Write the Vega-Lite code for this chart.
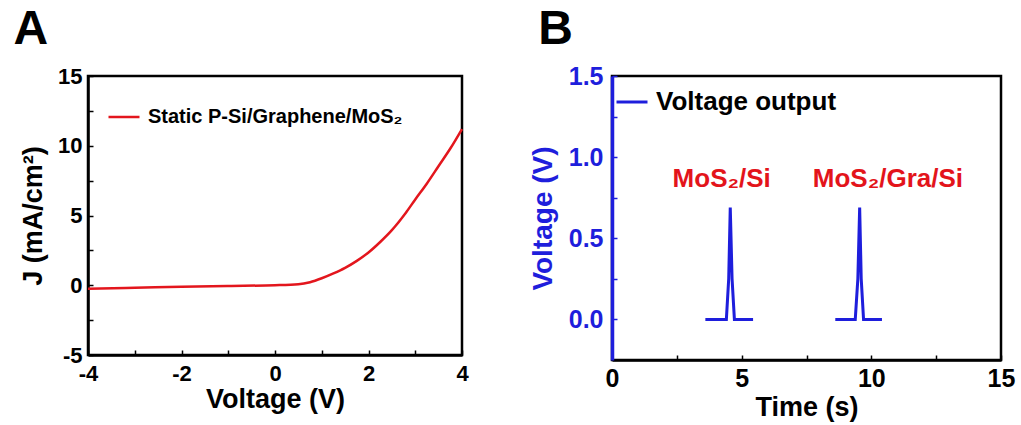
{
  "$schema": "https://vega.github.io/schema/vega-lite/v6.json",
  "padding": {"left": 12, "top": 4, "right": 5, "bottom": 2},
  "background": "white",
  "spacing": 57,
  "resolve": {"scale": {"color": "independent"}, "legend": {"color": "independent"}},
  "config": {
    "font": "Liberation Sans",
    "view": {"stroke": "black", "strokeWidth": 2.5},
    "axis": {
      "grid": false,
      "labelFont": "Liberation Sans", "labelFontWeight": "bold", "labelFontSize": 22, "labelColor": "black",
      "titleFont": "Liberation Sans", "titleFontWeight": "bold", "titleFontSize": 27, "titleColor": "black",
      "domainColor": "black", "domainWidth": 2.5, "tickColor": "black", "tickWidth": 1.5, "tickSize": -5,
      "labelFlush": false, "labelOverlap": false
    },
    "legend": {
      "labelFont": "Liberation Sans", "labelFontWeight": "bold", "labelColor": "black", "labelLimit": 0,
      "symbolType": "stroke", "symbolSize": 961, "symbolStrokeWidth": 2.5, "labelOffset": 7, "padding": 0
    },
    "title": {"font": "Liberation Sans", "fontSize": 48, "fontWeight": "bold", "anchor": "start", "color": "black"}
  },
  "hconcat": [
    {
      "title": {"text": "A", "dx": -6, "offset": 11},
      "width": 374,
      "height": 279,
      "data": {"values": [
        {"voltage": -4, "J": -0.25, "series": "Static P-Si/Graphene/MoS₂"},
        {"voltage": -3, "J": -0.18, "series": "Static P-Si/Graphene/MoS₂"},
        {"voltage": -2, "J": -0.1, "series": "Static P-Si/Graphene/MoS₂"},
        {"voltage": -1, "J": -0.05, "series": "Static P-Si/Graphene/MoS₂"},
        {"voltage": 0, "J": 0.0, "series": "Static P-Si/Graphene/MoS₂"},
        {"voltage": 0.5, "J": 0.07, "series": "Static P-Si/Graphene/MoS₂"},
        {"voltage": 0.75, "J": 0.22, "series": "Static P-Si/Graphene/MoS₂"},
        {"voltage": 1.0, "J": 0.5, "series": "Static P-Si/Graphene/MoS₂"},
        {"voltage": 1.25, "J": 0.85, "series": "Static P-Si/Graphene/MoS₂"},
        {"voltage": 1.5, "J": 1.25, "series": "Static P-Si/Graphene/MoS₂"},
        {"voltage": 1.75, "J": 1.75, "series": "Static P-Si/Graphene/MoS₂"},
        {"voltage": 2.0, "J": 2.35, "series": "Static P-Si/Graphene/MoS₂"},
        {"voltage": 2.25, "J": 3.1, "series": "Static P-Si/Graphene/MoS₂"},
        {"voltage": 2.5, "J": 3.95, "series": "Static P-Si/Graphene/MoS₂"},
        {"voltage": 2.8, "J": 5.2, "series": "Static P-Si/Graphene/MoS₂"},
        {"voltage": 3.0, "J": 6.15, "series": "Static P-Si/Graphene/MoS₂"},
        {"voltage": 3.25, "J": 7.3, "series": "Static P-Si/Graphene/MoS₂"},
        {"voltage": 3.5, "J": 8.55, "series": "Static P-Si/Graphene/MoS₂"},
        {"voltage": 3.75, "J": 9.8, "series": "Static P-Si/Graphene/MoS₂"},
        {"voltage": 4.0, "J": 11.2, "series": "Static P-Si/Graphene/MoS₂"}
      ]},
      "mark": {"type": "line", "strokeWidth": 2.5, "interpolate": "monotone"},
      "encoding": {
        "x": {
          "field": "voltage", "type": "quantitative",
          "scale": {"domain": [-4, 4], "nice": false, "zero": false},
          "axis": {
            "title": "Voltage (V)",
            "values": [-4, -3, -2, -1, 0, 1, 2, 3, 4],
            "labelExpr": "datum.value % 2 === 0 ? '' + datum.value : ''",
            "labelPadding": 13, "titlePadding": 2
          }
        },
        "y": {
          "field": "J", "type": "quantitative",
          "scale": {"domain": [-5, 15], "nice": false, "zero": false},
          "axis": {
            "title": "J (mA/cm²)",
            "values": [-5, -2.5, 0, 2.5, 5, 7.5, 10, 12.5, 15],
            "labelExpr": "datum.value % 5 === 0 ? '' + datum.value : ''",
            "labelPadding": 11, "titlePadding": 10
          }
        },
        "color": {
          "field": "series", "type": "nominal",
          "scale": {"range": ["#e3161d"]},
          "legend": {"title": null, "orient": "none", "legendX": 19, "legendY": 24, "labelFontSize": 20}
        }
      }
    },
    {
      "title": {"text": "B", "dx": 9, "offset": 10},
      "width": 389,
      "height": 284,
      "layer": [
        {
          "data": {"values": [
            {"time": 3.6, "voltage": 0, "pulse": 1, "series": "Voltage output"},
            {"time": 4.41, "voltage": 0, "pulse": 1, "series": "Voltage output"},
            {"time": 4.5, "voltage": 0.25, "pulse": 1, "series": "Voltage output"},
            {"time": 4.56, "voltage": 0.69, "pulse": 1, "series": "Voltage output"},
            {"time": 4.63, "voltage": 0.25, "pulse": 1, "series": "Voltage output"},
            {"time": 4.72, "voltage": 0, "pulse": 1, "series": "Voltage output"},
            {"time": 5.44, "voltage": 0, "pulse": 1, "series": "Voltage output"},
            {"time": 8.61, "voltage": 0, "pulse": 2, "series": "Voltage output"},
            {"time": 9.38, "voltage": 0, "pulse": 2, "series": "Voltage output"},
            {"time": 9.48, "voltage": 0.25, "pulse": 2, "series": "Voltage output"},
            {"time": 9.55, "voltage": 0.69, "pulse": 2, "series": "Voltage output"},
            {"time": 9.61, "voltage": 0.25, "pulse": 2, "series": "Voltage output"},
            {"time": 9.7, "voltage": 0, "pulse": 2, "series": "Voltage output"},
            {"time": 10.41, "voltage": 0, "pulse": 2, "series": "Voltage output"}
          ]},
          "mark": {"type": "line", "strokeWidth": 3},
          "encoding": {
            "x": {
              "field": "time", "type": "quantitative",
              "scale": {"domain": [0, 15], "nice": false},
              "axis": {
                "title": "Time (s)",
                "values": [0, 2.5, 5, 7.5, 10, 12.5, 15],
                "labelExpr": "datum.value % 5 === 0 ? '' + datum.value : ''",
                "labelPadding": 11, "titlePadding": 3, "titleFontSize": 27, "labelFontSize": 25
              }
            },
            "y": {
              "field": "voltage", "type": "quantitative",
              "scale": {"domain": [-0.25, 1.5], "nice": false, "zero": false},
              "axis": {
                "title": "Voltage (V)",
                "values": [0, 0.25, 0.5, 0.75, 1, 1.25, 1.5],
                "labelExpr": "datum.value * 2 === round(datum.value * 2) ? format(datum.value, '.1f') : ''",
                "labelPadding": 14, "titlePadding": 11, "titleFontSize": 28, "labelFontSize": 25,
                "domainColor": "#1e1edc", "domainWidth": 3.5, "tickColor": "#1e1edc",
                "labelColor": "#1e1edc", "titleColor": "#1e1edc"
              }
            },
            "detail": {"field": "pulse", "type": "nominal"},
            "color": {
              "field": "series", "type": "nominal",
              "scale": {"range": ["#1e1edc"]},
              "legend": {"title": null, "orient": "none", "legendX": 3, "legendY": 9, "labelFontSize": 26, "symbolStrokeWidth": 3}
            }
          }
        },
        {
          "data": {"values": [
            {"label": "MoS₂/Si", "time": 4.23, "voltage": 0.815},
            {"label": "MoS₂/Gra/Si", "time": 10.64, "voltage": 0.815}
          ]},
          "mark": {"type": "text", "fontSize": 26, "fontWeight": "bold", "font": "Liberation Sans", "color": "#e3141b", "align": "center", "baseline": "alphabetic"},
          "encoding": {
            "x": {"field": "time", "type": "quantitative"},
            "y": {"field": "voltage", "type": "quantitative"},
            "text": {"field": "label", "type": "nominal"}
          }
        }
      ]
    }
  ]
}
